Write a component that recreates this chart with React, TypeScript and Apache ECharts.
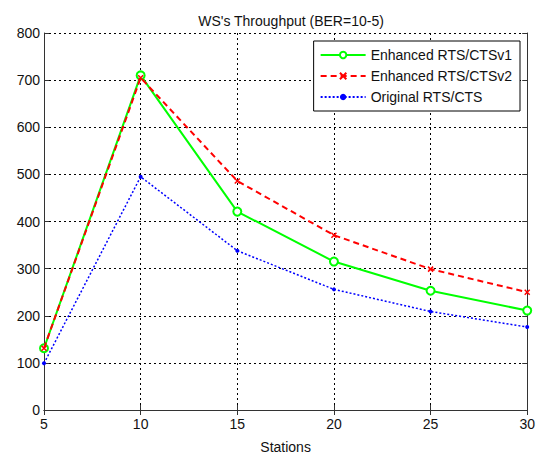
import React, { useEffect, useRef } from "react";
import * as echarts from "echarts";

const stations = [5, 10, 15, 20, 25, 30];
const enhancedV1 = [131, 710, 421, 315, 253, 211];
const enhancedV2 = [131, 705, 486, 371, 299, 250];
const original = [99, 495, 338, 256, 209, 176];
const seriesNames = ["Enhanced RTS/CTSv1", "Enhanced RTS/CTSv2", "Original RTS/CTS"];

const FONT = "'Liberation Sans', Arial, sans-serif";

export default function App() {
  const ref = useRef<HTMLDivElement>(null);
  useEffect(() => {
    if (!ref.current) return;
    const chart = echarts.init(ref.current, undefined, { renderer: "svg" });
    const pair = (arr: number[]) => stations.map((s, i) => [s, arr[i]]);
    const gridLine = { show: true, lineStyle: { color: "#000", type: [2, 3], width: 1 } };
    const axisLine = { show: true, lineStyle: { color: "#333", width: 1 } };
    chart.setOption({
      animation: false,
      backgroundColor: "#fff",
      title: {
        text: "WS's Throughput (BER=10-5)",
        left: 286,
        textAlign: "center",
        top: 9,
        textStyle: { fontFamily: FONT, fontSize: 14, fontWeight: "normal", color: "#111" },
      },
      grid: { left: 44, right: 9, top: 33, bottom: 44, show: false },
      legend: {
        orient: "vertical",
        right: 18,
        top: 41,
        itemWidth: 45,
        itemHeight: 8,
        itemGap: 5,
        padding: [6, 8, 6, 6],
        borderColor: "#000",
        borderWidth: 1,
        backgroundColor: "#fff",
        textStyle: { fontFamily: FONT, fontSize: 14, color: "#111", lineHeight: 16 },
        data: seriesNames,
      },
      xAxis: [
        {
          type: "value",
          min: 5,
          max: 30,
          interval: 5,
          name: "Stations",
          nameLocation: "middle",
          nameGap: 30,
          nameTextStyle: { fontFamily: FONT, fontSize: 14, color: "#111" },
          axisLine,
          axisTick: { show: true, inside: true, length: 5, lineStyle: { color: "#333" } },
          axisLabel: { fontFamily: FONT, fontSize: 14, color: "#111", margin: 7 },
          splitLine: gridLine,
        },
        {
          type: "value",
          position: "top",
          min: 5,
          max: 30,
          interval: 5,
          axisLine,
          axisTick: { show: true, inside: true, length: 5, lineStyle: { color: "#333" } },
          axisLabel: { show: false },
          splitLine: { show: false },
        },
      ],
      yAxis: [
        {
          type: "value",
          min: 0,
          max: 800,
          interval: 100,
          axisLine,
          axisTick: { show: true, inside: true, length: 5, lineStyle: { color: "#333" } },
          axisLabel: { fontFamily: FONT, fontSize: 14, color: "#111", margin: 4 },
          splitLine: gridLine,
        },
        {
          type: "value",
          position: "right",
          min: 0,
          max: 800,
          interval: 100,
          axisLine,
          axisTick: { show: true, inside: true, length: 5, lineStyle: { color: "#333" } },
          axisLabel: { show: false },
          splitLine: { show: false },
        },
      ],
      series: [
        {
          name: seriesNames[0],
          type: "line",
          data: pair(enhancedV1),
          symbol: "emptyCircle",
          symbolSize: 8,
          lineStyle: { color: "#00ff00", width: 2, type: "solid" },
          itemStyle: { color: "#00ff00", borderColor: "#00ff00", borderWidth: 1.5 },
          z: 3,
        },
        {
          name: seriesNames[1],
          type: "line",
          data: pair(enhancedV2),
          symbol: "path://M0,0L10,10M10,0L0,10",
          symbolSize: 5,
          lineStyle: { color: "#ff0000", width: 2, type: [6, 4] },
          itemStyle: { color: "#ff0000", borderColor: "#ff0000", borderWidth: 1.5 },
          z: 4,
        },
        {
          name: seriesNames[2],
          type: "line",
          data: pair(original),
          symbol: "circle",
          symbolSize: 4,
          lineStyle: { color: "#0000ff", width: 1.5, type: [2, 2] },
          itemStyle: { color: "#0000ff" },
          z: 2,
        },
      ],
    });
    return () => chart.dispose();
  }, []);
  return <div ref={ref} style={{ width: 538, height: 459, position: "absolute", left: 0, top: 0 }} />;
}
